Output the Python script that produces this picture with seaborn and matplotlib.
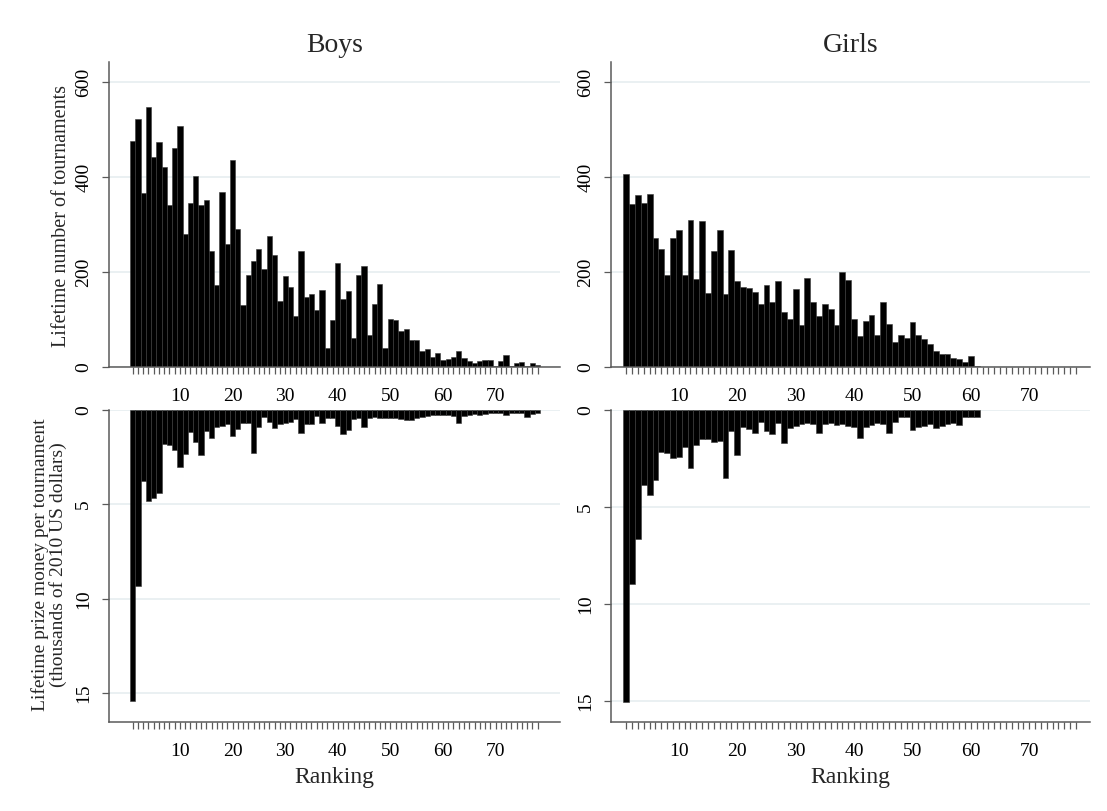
import matplotlib
matplotlib.use("Agg")
import matplotlib.pyplot as plt
import seaborn as sns

# Data
boys_tournaments = [476, 521, 367, 547, 442, 474, 420, 340, 462, 507,
                    281, 346, 403, 341, 352, 245, 173, 368, 259, 435,
                    291, 131, 194, 223, 248, 206, 275, 235, 138, 191,
                    169, 107, 244, 147, 153, 121, 162, 41, 98, 218,
                    144, 159, 62, 193, 212, 67, 133, 175, 41, 101,
                    99, 75, 81, 57, 57, 34, 38, 22, 29, 15,
                    17, 22, 34, 19, 12, 8, 12, 14, 14, 2,
                    13, 25, 2, 8, 11, 2, 8, 5]
girls_tournaments = [406, 344, 361, 345, 365, 272, 249, 193, 272, 288,
                     194, 310, 185, 307, 156, 244, 289, 154, 246, 181,
                     168, 166, 157, 132, 172, 137, 181, 116, 102, 165,
                     89, 188, 137, 107, 132, 122, 89, 199, 184, 100,
                     65, 97, 109, 67, 137, 90, 53, 67, 62, 94,
                     67, 59, 49, 33, 28, 27, 18, 16, 11, 23, 1.5]
boys_prize = [15.42, 9.35, 3.75, 4.82, 4.68, 4.42, 1.82, 1.86, 2.12, 3.0,
              2.33, 1.18, 1.71, 2.39, 1.10, 1.47, 0.90, 0.83, 0.76, 1.36,
              1.02, 0.69, 0.69, 2.26, 0.90, 0.35, 0.65, 0.97, 0.76, 0.71,
              0.62, 0.48, 1.24, 0.76, 0.72, 0.30, 0.67, 0.44, 0.44, 0.85,
              1.27, 1.04, 0.50, 0.40, 0.88, 0.44, 0.35, 0.44, 0.40, 0.44,
              0.44, 0.48, 0.53, 0.53, 0.44, 0.35, 0.32, 0.28, 0.28, 0.28,
              0.28, 0.32, 0.71, 0.32, 0.25, 0.21, 0.25, 0.21, 0.18, 0.18,
              0.14, 0.28, 0.18, 0.14, 0.14, 0.35, 0.21, 0.18]
girls_prize = [15.05, 8.97, 6.67, 3.88, 4.36, 3.59, 2.16, 2.24, 2.45, 2.41,
               1.93, 2.97, 1.78, 1.52, 1.52, 1.64, 1.59, 3.5, 1.07, 2.33,
               0.86, 1.0, 1.21, 0.6, 1.09, 1.24, 0.69, 1.72, 0.95, 0.83,
               0.70, 0.65, 0.72, 1.18, 0.70, 0.65, 0.78, 0.70, 0.82, 0.88,
               1.46, 0.88, 0.78, 0.65, 0.72, 1.18, 0.62, 0.38, 0.35, 1.03,
               0.86, 0.82, 0.72, 0.95, 0.82, 0.72, 0.68, 0.76, 0.35, 0.35, 0.35]
boys_rank = list(range(1, len(boys_tournaments) + 1))
girls_rank = list(range(1, len(girls_tournaments) + 1))

panel_titles = ["Boys", "Girls"]
rank_ticks = [10, 20, 30, 40, 50, 60, 70]
rank_minor = list(range(1, 79))
tournament_ticks = [0, 200, 400, 600]
prize_ticks = [0, 5, 10, 15]

sns.set_style("white")
plt.rcParams["font.family"] = ["Liberation Serif", "DejaVu Serif"]

W, H = 1107, 811
fig = plt.figure(figsize=(W / 100, H / 100), dpi=100)

axis_col = "#5a5a5a"
grid_col = "#e6eef0"
bar_edge = "#3a3a3a"


def px_axes(left, top, right, bottom):
    return fig.add_axes([left / W, 1 - bottom / H, (right - left) / W, (bottom - top) / H])


def style(ax, yticks, xlim, ylim):
    ax.set_xlim(xlim)
    ax.set_ylim(ylim)
    ax.set_yticks(yticks)
    ax.set_yticklabels([str(t) for t in yticks], rotation=90, va="center")
    ax.set_xticks(rank_ticks)
    ax.set_xticks(rank_minor, minor=True)
    ax.set_xlabel("")
    ax.set_ylabel("")
    ax.grid(axis="y", color=grid_col, lw=1.2)
    ax.grid(axis="x", visible=False)
    ax.set_axisbelow(True)
    ax.spines["top"].set_visible(False)
    ax.spines["right"].set_visible(False)
    for s in ["left", "bottom"]:
        ax.spines[s].set_color(axis_col)
        ax.spines[s].set_linewidth(1.1)
    ax.tick_params(axis="x", which="both", bottom=True, top=False)
    ax.tick_params(axis="y", which="both", left=True, right=False)
    ax.tick_params(axis="both", which="both", direction="out", color=axis_col,
                   width=0.9, length=5, labelsize=14, labelcolor="black")
    ax.tick_params(axis="x", which="major", pad=10)
    ax.tick_params(axis="y", which="major", pad=7)


layout = {
    "Boys": dict(left=109, right=560, xlim=(-3.49, 82.25), prize_max=16.53,
                 rank=boys_rank, games=boys_tournaments, prize=boys_prize),
    "Girls": dict(left=611, right=1090, xlim=(-1.61, 80.4), prize_max=16.08,
                  rank=girls_rank, games=girls_tournaments, prize=girls_prize),
}

for name in panel_titles:
    p = layout[name]
    ax_top = px_axes(p["left"], 62, p["right"], 367)
    sns.barplot(x=p["rank"], y=p["games"], native_scale=True, color="black",
                saturation=1, width=1, errorbar=None, edgecolor=bar_edge,
                linewidth=0.4, ax=ax_top)
    style(ax_top, tournament_ticks, p["xlim"], (0, 642))

    ax_bot = px_axes(p["left"], 410, p["right"], 722)
    sns.barplot(x=p["rank"], y=p["prize"], native_scale=True, color="black",
                saturation=1, width=1, errorbar=None, edgecolor=bar_edge,
                linewidth=0.4, ax=ax_bot)
    style(ax_bot, prize_ticks, p["xlim"], (p["prize_max"], 0))

    cx = (p["left"] + p["right"]) / 2 / W
    fig.text(cx, 1 - 45 / H, name, ha="center", va="center", fontsize=20)
    fig.text(cx, 1 - 778 / H, "Ranking", ha="center", va="center", fontsize=17)

fig.text(62 / W, 1 - 216 / H, "Lifetime number of tournaments", rotation=90,
         ha="center", va="center", fontsize=14.5)
fig.text(49 / W, 1 - 565 / H,
         "Lifetime prize money per tournament\n(thousands of 2010 US dollars)",
         rotation=90, ha="center", va="center", fontsize=14, linespacing=0.95)

fig.savefig("out.png", dpi=100, facecolor="white")
